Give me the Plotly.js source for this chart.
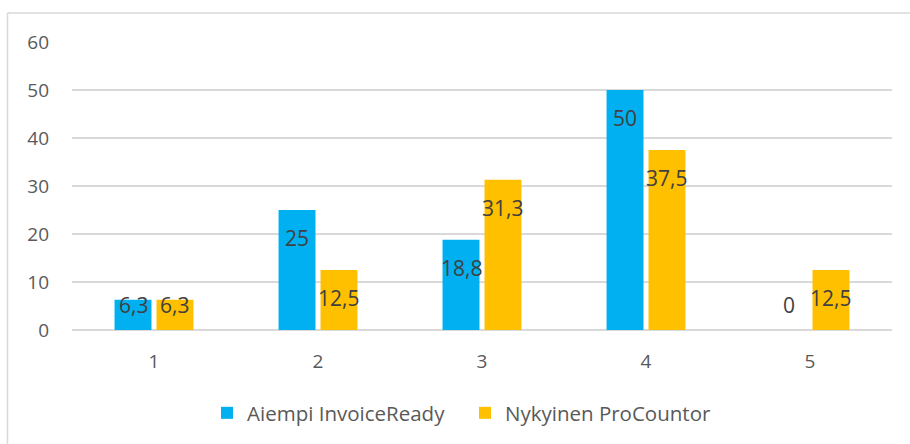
<!DOCTYPE html>
<html>
<head>
<meta charset="utf-8">
<script src="https://cdn.plot.ly/plotly-3.0.1.min.js"></script>
<style>
  html, body { margin: 0; padding: 0; background: #ffffff; }
  #chart { width: 910px; height: 444px; }
</style>
</head>
<body>
<div id="chart"></div>
<script>
// Categories on the x axis
const categories = ['1', '2', '3', '4', '5'];
// Series values
const seriesNames = ['Aiempi InvoiceReady', 'Nykyinen ProCountor'];
const invoiceReady = [6.3, 25, 18.8, 50, 0];
const proCountor = [6.3, 12.5, 31.3, 37.5, 12.5];
const seriesColors = ['#00B0F0', '#FFC000'];
// Y axis ticks
const yTicks = [0, 10, 20, 30, 40, 50, 60];

const W = 910, H = 444;
const margin = { l: 72, r: 18, t: 42, b: 113 };
const plotW = W - margin.l - margin.r;
const plotH = H - margin.t - margin.b;
const yMax = 60;
const pxPerUnit = plotH / yMax;

const fontFamily = '"Open Sans", "Noto Sans", sans-serif';

const allSeries = [invoiceReady, proCountor];

const traces = allSeries.map((vals, i) => ({
  type: 'bar',
  name: seriesNames[i],
  x: categories,
  y: vals,
  marker: { color: seriesColors[i], line: { width: 0 } },
  hoverinfo: 'skip'
}));

// Value labels sit near the inside top of each bar, kept above the axis
const bargap = 0.488;
const slotPx = (plotW / categories.length) * (1 - bargap) / 2;
const annotations = [];
allSeries.forEach((vals, i) => {
  const shift = (i - 0.5) * slotPx;
  vals.forEach((v, j) => {
    const yPos = Math.max(v - 28.5 / pxPerUnit, 25 / pxPerUnit);
    annotations.push({
      x: j, y: yPos, xref: 'x', yref: 'y',
      xshift: shift, yanchor: 'middle', xanchor: 'center',
      text: String(v).replace('.', ','),
      showarrow: false,
      font: { family: fontFamily, size: 21, color: '#404040' }
    });
  });
});

// Chart frame: light border along the top and left edges
const px2paperX = px => (px - margin.l) / plotW;
const px2paperY = py => 1 - (py - margin.t) / plotH;
const shapes = [
  { type: 'line', xref: 'paper', yref: 'paper',
    x0: px2paperX(7.5), x1: px2paperX(W + 5), y0: px2paperY(13), y1: px2paperY(13),
    line: { color: '#d9d9d9', width: 1.5 } },
  { type: 'line', xref: 'paper', yref: 'paper',
    x0: px2paperX(7.5), x1: px2paperX(7.5), y0: px2paperY(13), y1: px2paperY(H + 5),
    line: { color: '#d9d9d9', width: 1.5 } }
];

const layout = {
  width: W, height: H,
  margin: margin,
  paper_bgcolor: '#ffffff',
  plot_bgcolor: '#ffffff',
  barmode: 'group',
  bargap: bargap,
  bargroupgap: 0.12,
  showlegend: true,
  legend: {
    orientation: 'h',
    x: px2paperX(207), xanchor: 'left',
    y: px2paperY(413), yanchor: 'middle',
    entrywidth: 213,
    entrywidthmode: 'pixels',
    font: { family: fontFamily, size: 20.5, color: '#595959' },
    traceorder: 'normal',
    bgcolor: 'rgba(0,0,0,0)'
  },
  xaxis: {
    type: 'category',
    range: [-0.5, categories.length - 0.5],
    autorange: false,
    showgrid: false,
    showline: false,
    zeroline: false,
    ticks: '',
    ticklabelstandoff: 18,
    tickfont: { family: fontFamily, size: 19, color: '#595959' }
  },
  yaxis: {
    range: [0, yMax],
    autorange: false,
    tickvals: yTicks,
    ticktext: yTicks.map(String),
    showgrid: true,
    gridcolor: '#d9d9d9',
    gridwidth: 1.5,
    zeroline: true,
    zerolinecolor: '#d9d9d9',
    zerolinewidth: 1.5,
    showline: false,
    ticks: '',
    ticklabelstandoff: 22,
    tickfont: { family: fontFamily, size: 19, color: '#595959' }
  },
  annotations: annotations,
  shapes: shapes
};

Plotly.newPlot('chart', traces, layout, { displayModeBar: false, staticPlot: true });
</script>
</body>
</html>
